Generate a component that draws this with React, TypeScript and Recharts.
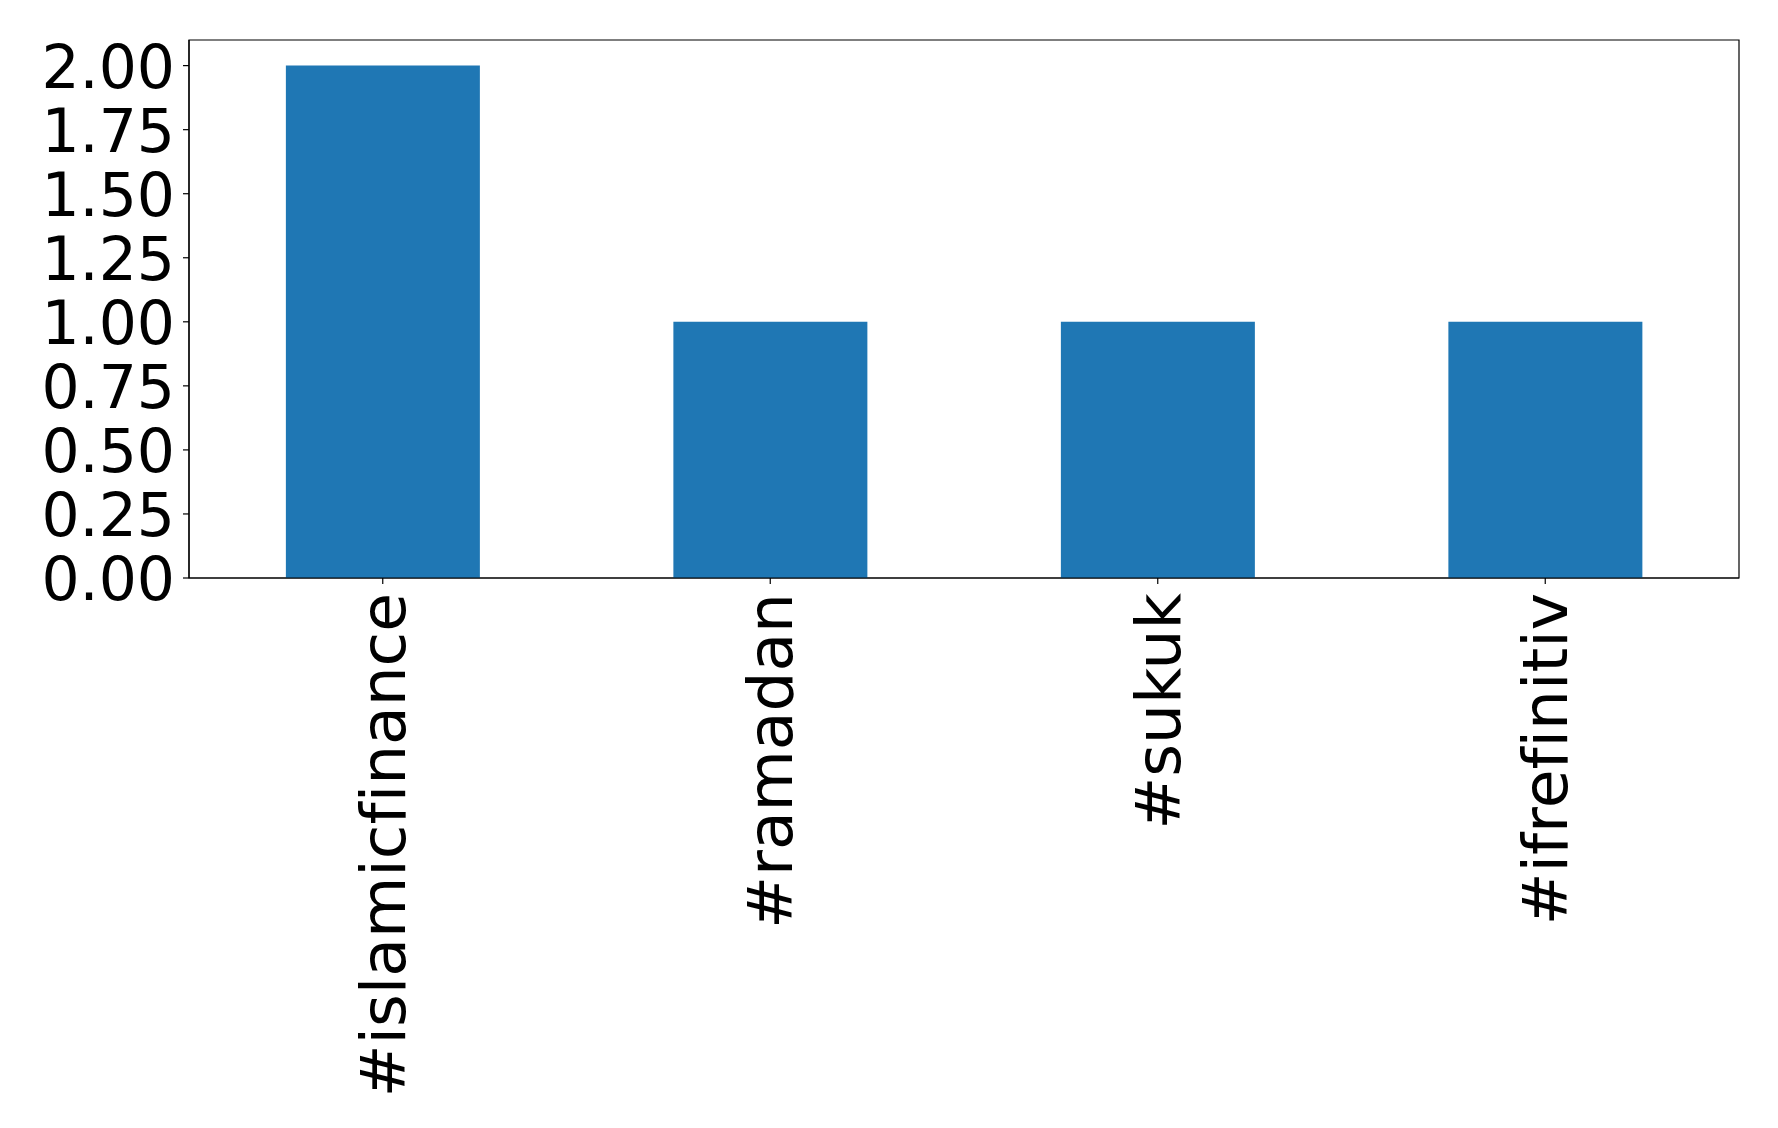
import React from 'react'
import { BarChart, Bar, XAxis, YAxis, ReferenceArea } from 'recharts'

const categories = ['#islamicfinance', '#ramadan', '#sukuk', '#ifrefinitiv']
const counts = [2, 1, 1, 1]
const yTicks = [0, 0.25, 0.5, 0.75, 1.0, 1.25, 1.5, 1.75, 2.0]
const yMax = 2.1

const data = categories.map((name, i) => ({ name, count: counts[i] }))

const FONT = 'DejaVu Sans, sans-serif'

const YTick = (props: any) => {
    const { x, y, payload } = props
    return (
        <text
            x={x}
            y={y}
            dy={22}
            textAnchor="end"
            fontFamily={FONT}
            fontSize={60}
            fill="#000"
        >
            {Number(payload.value).toFixed(2)}
        </text>
    )
}

const XTick = (props: any) => {
    const { x, y, payload } = props
    const bx = x + 22
    return (
        <text
            x={bx}
            y={y}
            transform={`rotate(-90, ${bx}, ${y})`}
            textAnchor="end"
            fontFamily={FONT}
            fontSize={63}
            fill="#000"
            style={{ fontVariantLigatures: 'none' }}
        >
            {payload.value}
        </text>
    )
}

export default function App() {
    return (
        <div style={{ position: 'absolute', left: 0, top: 0, background: '#fff' }}>
            <BarChart
                width={1778}
                height={1128}
                data={data}
                margin={{ top: 40, right: 39, left: 0, bottom: 0 }}
                barCategoryGap="25%"
            >
                <XAxis
                    dataKey="name"
                    height={550}
                    interval={0}
                    tick={<XTick />}
                    tickSize={6}
                    tickMargin={9}
                    stroke="#000"
                    axisLine={{ stroke: '#000', strokeWidth: 1.2 }}
                    tickLine={{ stroke: '#000', strokeWidth: 1.2 }}
                />
                <YAxis
                    width={189}
                    domain={[0, yMax]}
                    ticks={yTicks}
                    interval={0}
                    tick={<YTick />}
                    tickSize={6}
                    tickMargin={8}
                    stroke="#000"
                    axisLine={{ stroke: '#000', strokeWidth: 1.2 }}
                    tickLine={{ stroke: '#000', strokeWidth: 1.2 }}
                />
                <Bar dataKey="count" fill="#1f77b4" isAnimationActive={false} />
                <ReferenceArea
                    y1={0}
                    y2={yMax}
                    fill="none"
                    fillOpacity={0}
                    stroke="#000"
                    strokeWidth={1.2}
                    ifOverflow="visible"
                />
            </BarChart>
        </div>
    )
}
